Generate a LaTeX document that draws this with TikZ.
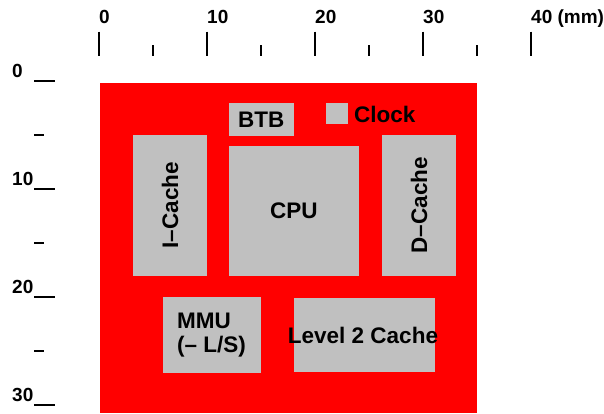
\documentclass[tikz,border=0pt]{standalone}
\usepackage{fontspec}
\setmainfont{Liberation Sans}
\definecolor{chipgray}{RGB}{192,192,192}
\definecolor{chipred}{RGB}{255,0,0}
\begin{document}
\begin{tikzpicture}[x=1pt,y=-1pt,
  box/.style={fill=chipgray, draw=none, inner sep=0pt, outer sep=0pt},
  boxtext/.style={font=\fontsize{22.5}{24}\selectfont\bfseries, inner sep=0pt},
  ruletext/.style={font=\fontsize{19}{20}\selectfont\bfseries, inner sep=0pt, anchor=base west},
  tickline/.style={line width=1.2pt, black}]
\useasboundingbox (0,0) rectangle (604,413);
% die
\fill[chipred] (100,83) rectangle (477,413);
% top ruler
\foreach \x/\t in {99/0,207/10,315/20,423/30,531/{40 (mm)}}{
  \draw[tickline] (\x,31.5) -- (\x,56);
  \node[ruletext] at (\x,23.3) {\t};
}
\foreach \x in {153,261,369,477}{
  \draw[tickline] (\x,45) -- (\x,56);
}
% left ruler
\foreach \y/\t in {81/0,189/10,297/20,405/30}{
  \draw[tickline] (34,\y) -- (55,\y);
  \node[ruletext] at (12,\y-3.5) {\t};
}
\foreach \y in {135,243,351}{
  \draw[tickline] (34,\y) -- (44,\y);
}
% blocks
\node[box, minimum width=64.7pt, minimum height=32.7pt] (btb) at (261.3,119.3) {};
\node[boxtext] (btbt) at (btb.center) {BTB};
\node[box, minimum width=21.7pt, minimum height=21pt] (clk) at (337,113.8) {};
\node[boxtext, anchor=west] (clkt) at (354,114.5) {Clock};
\node[box, minimum width=73.7pt, minimum height=140.7pt] (ic) at (170,205.3) {};
\node[boxtext, rotate=90] (ict) at (ic.center) {I–Cache};
\node[box, minimum width=129.7pt, minimum height=129.7pt] (cpu) at (293.8,210.8) {};
\node[boxtext] (cput) at (cpu.center) {CPU};
\node[box, minimum width=74pt, minimum height=140.7pt] (dc) at (419,205.3) {};
\node[boxtext, rotate=90] (dct) at (dc.center) {D–Cache};
\node[box, minimum width=98pt, minimum height=75.7pt] (mmu) at (212,334.8) {};
\node[boxtext, align=left] (mmut) at (211.5,335) {MMU\\(– L/S)};
\node[box, minimum width=141pt, minimum height=73.7pt] (l2) at (364.5,334.8) {};
\node[boxtext] (l2t) at (363,335) {Level 2 Cache};
\end{tikzpicture}
\end{document}
